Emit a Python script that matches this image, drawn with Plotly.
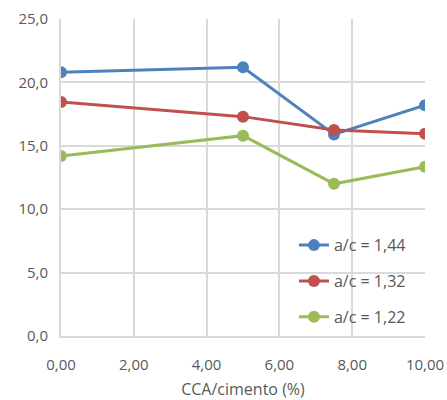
import plotly.graph_objects as go

# CCA content relative to cement (%)
cca = [0, 5, 7.5, 10]

# Series by water/cement ratio
serie_144 = [20.8, 21.2, 15.9, 18.2]
serie_132 = [18.45, 17.3, 16.25, 15.95]
serie_122 = [14.2, 15.8, 12.0, 13.35]

labels = ["a/c = 1,44", "a/c = 1,32", "a/c = 1,22"]
colors = ["#4F81BD", "#C0504D", "#9BBB59"]

fig = go.Figure()
for i, (vals, name, col) in enumerate(zip([serie_144, serie_132, serie_122], labels, colors)):
    fig.add_trace(go.Scatter(
        x=cca, y=vals, name=name, mode="lines+markers",
        legendgroup=f"g{i}",
        line=dict(color=col, width=3),
        marker=dict(color=col, size=12),
    ))

grid = "#D9D9D9"
txt = "#595959"
fig.update_layout(
    width=447, height=400,
    margin=dict(l=61, r=22, t=19, b=64),
    plot_bgcolor="white", paper_bgcolor="white",
    separators=",.",
    font=dict(family="Open Sans, Liberation Sans, sans-serif", size=15, color=txt),
    showlegend=True,
    legend=dict(
        x=0.64, y=0.34, xanchor="left", yanchor="top",
        bgcolor="rgba(0,0,0,0)", tracegroupgap=12,
        font=dict(size=16, color=txt),
    ),
    xaxis=dict(
        range=[0, 10], tick0=0, dtick=2, tickformat=".2f",
        showgrid=True, gridcolor=grid, gridwidth=2,
        showline=True, linecolor=grid, linewidth=2,
        zeroline=False, ticks="", ticklabelstandoff=14, automargin=False,
        title=dict(text="CCA/cimento (%)", font=dict(size=16, color=txt), standoff=20),
    ),
    yaxis=dict(
        range=[0, 25], tick0=0, dtick=5, tickformat=".1f",
        showgrid=True, gridcolor=grid, gridwidth=2,
        showline=True, linecolor=grid, linewidth=2,
        zeroline=False, ticks="", ticklabelstandoff=8, automargin=False,
    ),
)

fig.write_html("out.html")
